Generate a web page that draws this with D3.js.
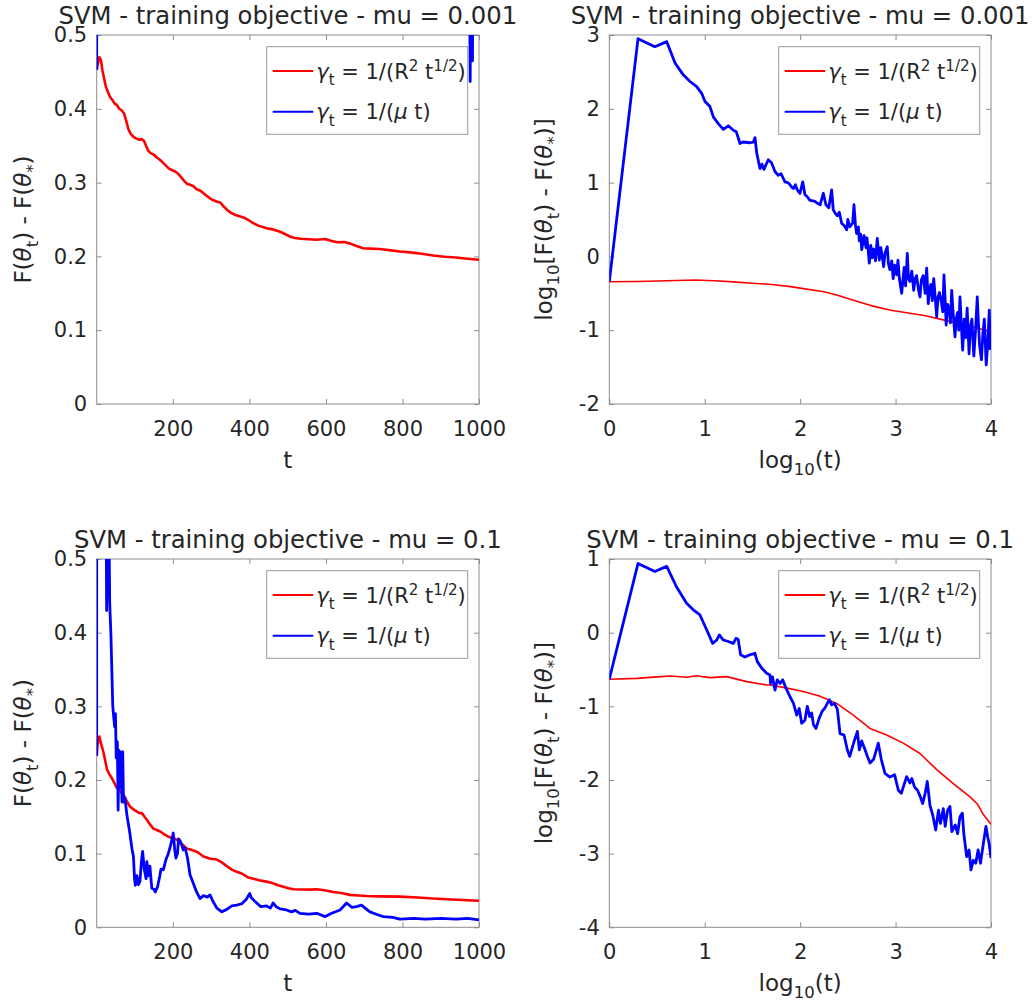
<!DOCTYPE html>
<html>
<head>
<meta charset="utf-8">
<script src="https://cdn.jsdelivr.net/npm/d3@7"></script>
<style>
  body { margin: 0; background: #fff; }
  svg text { font-family: "DejaVu Sans", "Liberation Sans", Arial, sans-serif; fill: #262626; }
</style>
</head>
<body>
<svg id="fig" width="1032" height="1008"></svg>
<script>
// ---- tick values / labels
var xTicksLin = [200, 400, 600, 800, 1000];
var xTickLabelsLin = ["200", "400", "600", "800", "1000"];
var yTicksLin = [0, 0.1, 0.2, 0.3, 0.4, 0.5];
var yTickLabelsLin = ["0", "0.1", "0.2", "0.3", "0.4", "0.5"];
var xTicksLog = [0, 1, 2, 3, 4];
var xTickLabelsLog = ["0", "1", "2", "3", "4"];
var yTicksLogTop = [-2, -1, 0, 1, 2, 3];
var yTickLabelsLogTop = ["-2", "-1", "0", "1", "2", "3"];
var yTicksLogBot = [-4, -3, -2, -1, 0, 1];
var yTickLabelsLogBot = ["-4", "-3", "-2", "-1", "0", "1"];

var titles = ["SVM - training objective - mu = 0.001", "SVM - training objective - mu = 0.1"];

// ---- series, [t, F(theta_t) - F(theta_*)]   mu = 0.001
var tlRed = [[1,0.453],[4,0.462],[8,0.470],[12,0.466],[16,0.452],[20,0.442],[25,0.430],[30,0.423],[36,0.416],[42,0.412],[48,0.407],[54,0.405],[60,0.400],[66,0.398],[72,0.394],[78,0.384],[84,0.372],[90,0.366],[97,0.362],[104,0.360],[112,0.358],[118,0.359],[124,0.357],[130,0.350],[136,0.343],[142,0.340],[150,0.338],[158,0.334],[166,0.331],[174,0.327],[182,0.323],[190,0.319],[198,0.317],[206,0.315],[214,0.312],[222,0.307],[230,0.302],[238,0.298],[246,0.297],[254,0.295],[262,0.291],[272,0.289],[284,0.284],[296,0.279],[306,0.276],[316,0.274],[324,0.273],[332,0.268],[342,0.263],[352,0.259],[364,0.256],[376,0.254],[388,0.252],[398,0.249],[410,0.245],[422,0.242],[434,0.240],[446,0.238],[458,0.237],[470,0.235],[482,0.233],[494,0.230],[506,0.227],[518,0.225],[535,0.224],[555,0.2232],[575,0.2225],[598,0.2235],[615,0.221],[630,0.2192],[648,0.2195],[665,0.217],[680,0.214],[697,0.211],[715,0.2105],[740,0.21],[765,0.2085],[793,0.2067],[820,0.2055],[850,0.2035],[880,0.2013],[910,0.1995],[940,0.1985],[970,0.1968],[1000,0.1954]];
var tlBlue = [[1,0.453],[2,891],[3,692],[4,813],[10,126],[30,30],[100,7],[300,1.8],[600,0.95],[900,0.7],[972,0.9],[975,0.6],[977,0.437],[979,0.72],[981,0.56],[983,0.465],[985,0.8],[1000,1.1]];

// ---- series, [log10 t, log10 gap]   mu = 0.001
var trRed = [[0,-0.343],[0.3,-0.34],[0.6,-0.33],[0.9,-0.32],[1.1,-0.33],[1.3,-0.345],[1.5,-0.363],[1.7,-0.38],[1.9,-0.41],[2.05,-0.44],[2.25,-0.48],[2.4,-0.53],[2.6,-0.61],[2.75,-0.67],[2.95,-0.73],[3.1,-0.76],[3.3,-0.80],[3.5,-0.86],[3.7,-0.92],[3.85,-0.97],[4,-1.02]];
var trBlue = [[0,-0.343],[0.301,2.95],[0.477,2.84],[0.602,2.91],[0.689,2.62],[0.775,2.46],[0.846,2.37],[0.916,2.30],[0.968,2.21],[1.003,2.10],[1.055,2.03],[1.09,1.89],[1.142,1.80],[1.195,1.72],[1.247,1.77],[1.3,1.71],[1.33,1.69],[1.37,1.53],[1.4,1.55],[1.474,1.54],[1.51,1.55],[1.527,1.61],[1.545,1.40],[1.579,1.19],[1.6,1.25],[1.62,1.18],[1.666,1.31],[1.7,1.27],[1.736,1.15],[1.77,1.10],[1.8,1.12],[1.841,1.01],[1.87,1.0],[1.894,0.97],[1.91,0.94],[1.93,0.92],[1.95,0.97],[1.97,0.90],[1.998,0.855],[2.027,1.01],[2.05,0.84],[2.08,0.80],[2.103,0.76],[2.15,0.75],[2.18,0.72],[2.21,0.70],[2.243,0.855],[2.27,0.70],[2.3,0.66],[2.33,0.90],[2.347,0.63],[2.37,0.58],[2.39,0.55],[2.41,0.60],[2.435,0.45],[2.46,0.42],[2.488,0.36],[2.5,0.50],[2.52,0.40],[2.55,0.45],[2.564,0.70],[2.58,0.42],[2.592,0.31],[2.61,0.40],[2.62,0.21],[2.635,0.30],[2.645,0.09],[2.67,0.28],[2.69,0.12],[2.7,0.25],[2.715,0.05],[2.725,-0.09],[2.74,0.15],[2.755,-0.02],[2.77,0.10],[2.79,-0.06],[2.808,0.245],[2.83,-0.05],[2.845,0.12],[2.86,0.0],[2.875,-0.14],[2.89,0.05],[2.913,0.13],[2.925,-0.10],[2.94,-0.18],[2.96,-0.06],[2.975,-0.30],[2.99,-0.12],[3.01,-0.25],[3.025,-0.05],[3.04,-0.30],[3.064,-0.50],[3.08,-0.28],[3.09,-0.15],[3.105,-0.40],[3.123,0.04],[3.135,-0.30],[3.15,-0.34],[3.17,-0.20],[3.19,-0.46],[3.205,-0.30],[3.22,-0.26],[3.24,-0.45],[3.256,-0.55],[3.27,-0.32],[3.29,-0.26],[3.31,-0.50],[3.326,-0.16],[3.343,-0.64],[3.355,-0.45],[3.37,-0.38],[3.385,-0.60],[3.4,-0.30],[3.415,-0.55],[3.431,-0.82],[3.445,-0.55],[3.46,-0.49],[3.48,-0.62],[3.495,-0.75],[3.507,-0.25],[3.52,-0.60],[3.53,-0.93],[3.545,-0.65],[3.56,-0.70],[3.575,-0.90],[3.588,-0.46],[3.605,-0.80],[3.623,-1.09],[3.635,-0.85],[3.65,-0.76],[3.662,-1.0],[3.675,-0.55],[3.69,-0.95],[3.703,-1.27],[3.72,-0.85],[3.735,-1.10],[3.75,-0.70],[3.77,-1.32],[3.785,-0.95],[3.8,-0.85],[3.82,-1.35],[3.838,-1.0],[3.856,-0.55],[3.87,-0.95],[3.88,-1.2],[3.9,-1.40],[3.915,-1.05],[3.93,-0.85],[3.95,-1.47],[3.965,-1.2],[3.982,-0.73],[3.99,-1.25],[4.0,-1.09]];

// ---- series, [t, F(theta_t) - F(theta_*)]   mu = 0.1
var blRed = [[1,0.233],[3,0.248],[6,0.256],[8,0.259],[12,0.250],[19,0.237],[24,0.224],[28,0.214],[34,0.208],[41,0.202],[47,0.196],[54,0.189],[62,0.185],[71,0.180],[80,0.171],[88,0.164],[97,0.160],[106,0.157],[113,0.155],[119,0.155],[126,0.150],[132,0.146],[140,0.140],[149,0.134],[158,0.132],[167,0.130],[178,0.126],[188,0.123],[200,0.121],[210,0.119],[222,0.114],[236,0.107],[250,0.105],[265,0.102],[280,0.096],[298,0.093],[315,0.092],[328,0.088],[341,0.083],[355,0.078],[367,0.0755],[380,0.073],[395,0.068],[410,0.066],[425,0.064],[445,0.062],[460,0.060],[475,0.057],[489,0.055],[502,0.053],[515,0.0516],[540,0.0514],[560,0.0512],[576,0.0516],[600,0.050],[619,0.048],[640,0.0465],[663,0.044],[685,0.0432],[706,0.0425],[740,0.042],[793,0.0416],[840,0.0405],[880,0.039],[930,0.0378],[970,0.0368],[1000,0.036]];
var blBlue = [[1,0.233],[2,8.7],[3,6.8],[4,7.9],[5,4.2],[6,2.6],[8,2.0],[10,1.1],[14,0.8],[18,0.9],[22,0.75],[25,0.6],[27,0.43],[29,0.52],[31,0.46],[33,0.55],[35,0.44],[38,0.40],[40,0.36],[43,0.30],[45,0.288],[48,0.272],[50,0.29],[52,0.23],[55,0.252],[57,0.159],[59,0.24],[62,0.19],[65,0.238],[67,0.17],[69,0.238],[71,0.17],[75,0.175],[80,0.152],[87,0.13],[93,0.107],[97,0.096],[100,0.065],[102,0.057],[106,0.07],[110,0.058],[114,0.062],[118,0.09],[121,0.103],[125,0.08],[130,0.066],[132,0.089],[136,0.07],[140,0.083],[145,0.053],[150,0.052],[154,0.048],[160,0.055],[166,0.07],[169,0.079],[175,0.078],[182,0.092],[188,0.1],[193,0.109],[198,0.12],[201,0.128],[205,0.105],[208,0.094],[212,0.10],[215,0.12],[219,0.117],[223,0.112],[227,0.105],[232,0.108],[238,0.095],[245,0.071],[253,0.060],[262,0.048],[271,0.039],[280,0.043],[290,0.041],[297,0.044],[305,0.035],[315,0.026],[328,0.021],[340,0.024],[354,0.029],[367,0.030],[380,0.032],[392,0.038],[401,0.046],[405,0.040],[419,0.033],[430,0.028],[445,0.029],[455,0.026],[462,0.033],[470,0.028],[480,0.025],[497,0.0235],[510,0.021],[520,0.023],[532,0.019],[555,0.018],[576,0.019],[598,0.0145],[615,0.019],[637,0.0235],[654,0.033],[668,0.027],[680,0.028],[693,0.030],[705,0.025],[715,0.021],[735,0.017],[750,0.0145],[775,0.0135],[793,0.011],[830,0.012],[860,0.011],[900,0.012],[940,0.011],[970,0.012],[1000,0.010]];

// ---- series, [log10 t, log10 gap]   mu = 0.1
var brRed = [[0,-0.633],[0.29,-0.62],[0.5,-0.60],[0.64,-0.588],[0.81,-0.606],[0.915,-0.584],[1.055,-0.61],[1.23,-0.597],[1.44,-0.665],[1.65,-0.71],[1.684,-0.71],[1.85,-0.75],[2.033,-0.80],[2.2,-0.86],[2.383,-0.96],[2.557,-1.12],[2.732,-1.30],[2.907,-1.39],[3.08,-1.50],[3.256,-1.64],[3.431,-1.86],[3.605,-2.05],[3.78,-2.23],[3.86,-2.33],[3.92,-2.47],[4.0,-2.60]];
var brBlue = [[0,-0.633],[0.301,0.94],[0.477,0.83],[0.602,0.90],[0.705,0.62],[0.81,0.40],[0.88,0.31],[0.95,0.24],[1.02,0.04],[1.083,-0.145],[1.125,-0.10],[1.153,-0.03],[1.195,-0.10],[1.247,-0.12],[1.3,-0.145],[1.327,-0.077],[1.35,-0.09],[1.376,-0.30],[1.42,-0.33],[1.474,-0.30],[1.526,-0.28],[1.55,-0.39],[1.596,-0.48],[1.649,-0.55],[1.684,-0.574],[1.69,-0.69],[1.71,-0.60],[1.736,-0.78],[1.76,-0.64],[1.79,-0.69],[1.817,-0.64],[1.85,-0.75],[1.894,-0.87],[1.93,-0.96],[1.964,-1.12],[1.99,-1.03],[2.016,-1.23],[2.05,-1.19],[2.075,-1.00],[2.1,-1.14],[2.12,-1.09],[2.14,-1.25],[2.166,-1.30],[2.2,-1.16],[2.23,-1.07],[2.26,-1.02],[2.305,-0.91],[2.33,-0.98],[2.36,-0.96],[2.39,-1.04],[2.418,-1.37],[2.46,-1.39],[2.494,-1.59],[2.52,-1.68],[2.56,-1.50],[2.6,-1.34],[2.62,-1.59],[2.645,-1.47],[2.68,-1.59],[2.705,-1.68],[2.732,-1.77],[2.77,-1.72],[2.819,-1.50],[2.85,-1.72],[2.889,-1.91],[2.94,-1.96],[2.99,-1.93],[3.029,-2.14],[3.06,-2.18],[3.09,-2.06],[3.116,-1.955],[3.15,-2.04],[3.17,-1.98],[3.2,-2.10],[3.23,-2.14],[3.26,-2.23],[3.284,-2.32],[3.31,-2.18],[3.332,-2.02],[3.36,-2.34],[3.39,-2.48],[3.42,-2.68],[3.45,-2.41],[3.47,-2.59],[3.5,-2.39],[3.52,-2.63],[3.545,-2.41],[3.57,-2.36],[3.59,-2.70],[3.625,-2.61],[3.65,-2.73],[3.675,-2.50],[3.70,-2.45],[3.715,-2.73],[3.745,-3.04],[3.77,-2.95],[3.79,-3.22],[3.815,-3.09],[3.84,-3.13],[3.865,-2.95],[3.89,-3.13],[3.92,-2.86],[3.947,-2.63],[3.965,-2.77],[3.98,-2.86],[4.0,-3.06]];

// ---- text pieces: [string, kind]  kind = n | sub | sup | it
var legendRed = [["γ","it"],["t","sub"],[" = 1/(R","n"],["2","sup"],[" t","n"],["1/2","sup"],[")","n"]];
var legendBlue = [["γ","it"],["t","sub"],[" = 1/(","n"],["μ","it"],[" t)","n"]];
var ylabLin = [["F(","n"],["θ","it"],["t","sub"],[") - F(","n"],["θ","it"],["*","sub"],[")","n"]];
var ylabLog = [["log","n"],["10","sub"],["[F(","n"],["θ","it"],["t","sub"],[") - F(","n"],["θ","it"],["*","sub"],[")]","n"]];
var xlabLin = [["t","n"]];
var xlabLog = [["log","n"],["10","sub"],["(t)","n"]];

var svg = d3.select("#fig");

// writes a piece list into a text element as tspans
function richText(sel, parts, size){
    var shift = 0;
    parts.forEach(function(p){
        var target = 0, fs = size;
        if (p[1] === "sub"){ target = size * 0.3; fs = size * 0.72; }
        if (p[1] === "sup"){ target = -size * 0.38; fs = size * 0.72; }
        var ts = sel.append("tspan").text(p[0]).attr("font-size", fs)
            .attr("dy", target - shift);
        if (p[1] === "it") ts.attr("font-style", "italic");
        shift = target;
    });
}

function drawPanel(cfg){
    var g = svg.append("g");
    var x = d3.scaleLinear().domain(cfg.xDomain).range([cfg.left, cfg.right]);
    var y = d3.scaleLinear().domain(cfg.yDomain).range([cfg.bottom, cfg.top]);
    var w = cfg.right - cfg.left, h = cfg.bottom - cfg.top;

    svg.append("clipPath").attr("id", "clip" + cfg.id)
        .append("rect").attr("x", cfg.left).attr("y", cfg.top).attr("width", w).attr("height", h);

    // box + inward ticks on all four sides
    var axBottom = d3.axisBottom(x).tickValues(cfg.xTicks).tickSizeInner(-5).tickSizeOuter(0).tickPadding(17)
        .tickFormat(d => cfg.xLabels[cfg.xTicks.indexOf(d)]);
    var axTop = d3.axisTop(x).tickValues(cfg.xTicks).tickSizeInner(-5).tickSizeOuter(0).tickFormat("");
    var axLeft = d3.axisLeft(y).tickValues(cfg.yTicks).tickSizeInner(-5).tickSizeOuter(0).tickPadding(9.5)
        .tickFormat(d => cfg.yLabels[cfg.yTicks.indexOf(d)]);
    var axRight = d3.axisRight(y).tickValues(cfg.yTicks).tickSizeInner(-5).tickSizeOuter(0).tickFormat("");

    [[axBottom, 0, cfg.bottom], [axTop, 0, cfg.top], [axLeft, cfg.left, 0], [axRight, cfg.right, 0]].forEach(function(a){
        var ag = g.append("g").attr("transform", "translate(" + a[1] + "," + a[2] + ")").call(a[0]);
        ag.select(".domain").remove();
        ag.selectAll(".tick line").attr("stroke", "#8c8c8c");
        ag.selectAll(".tick text").attr("font-size", 21).attr("fill", "#262626")
            .attr("font-family", '"DejaVu Sans", "Liberation Sans", Arial, sans-serif');
    });

    g.append("rect").attr("x", cfg.left).attr("y", cfg.top).attr("width", w).attr("height", h)
        .attr("fill", "none").attr("stroke", "#8c8c8c").attr("stroke-width", 1);

    var line = d3.line().x(d => x(d[0])).y(d => y(d[1]));
    var lines = g.append("g").attr("clip-path", "url(#clip" + cfg.id + ")");
    lines.append("path").datum(cfg.red).attr("d", line).attr("fill", "none")
        .attr("stroke", "#ff0000").attr("stroke-width", cfg.redWidth).attr("stroke-linejoin", "round");
    lines.append("path").datum(cfg.blue).attr("d", line).attr("fill", "none")
        .attr("stroke", "#0000ff").attr("stroke-width", 2.8).attr("stroke-linejoin", "round");

    // title
    g.append("text").attr("x", (cfg.left + cfg.right) / 2).attr("y", cfg.top - 11)
        .attr("text-anchor", "middle").attr("font-size", 24.3).text(cfg.title);

    // axis labels
    var xl = g.append("text").attr("x", (cfg.left + cfg.right) / 2).attr("y", cfg.bottom + 64)
        .attr("text-anchor", "middle").attr("font-size", 23);
    richText(xl, cfg.xLab, 23);
    var yl = g.append("text").attr("text-anchor", "middle").attr("font-size", 23)
        .attr("transform", "translate(" + (cfg.left - cfg.yLabOff) + "," + ((cfg.top + cfg.bottom) / 2) + ") rotate(-90)");
    richText(yl, cfg.yLab, 23);

    // legend
    var lx = cfg.right - 11.3 - 201, ly = cfg.top + 11.7;
    var lg = g.append("g");
    lg.append("rect").attr("x", lx).attr("y", ly).attr("width", 201).attr("height", 87.6)
        .attr("fill", "#fff").attr("stroke", "#9a9a9a").attr("stroke-width", 1);
    [[legendRed, "#ff0000", 24.3], [legendBlue, "#0000ff", 65]].forEach(function(e){
        lg.append("line").attr("x1", lx + 6).attr("x2", lx + 46.6)
            .attr("y1", ly + e[2]).attr("y2", ly + e[2]).attr("stroke", e[1]).attr("stroke-width", 2);
        var t = lg.append("text").attr("x", lx + 49.5).attr("y", ly + e[2] + 7.5).attr("font-size", 21);
        richText(t, e[0], 21);
    });
}

drawPanel({ id: "tl", left: 96.7, right: 479, top: 35, bottom: 404,
    xDomain: [1, 1000], yDomain: [0, 0.5], xTicks: xTicksLin, xLabels: xTickLabelsLin,
    yTicks: yTicksLin, yLabels: yTickLabelsLin,
    red: tlRed, blue: tlBlue, redWidth: 2.6, title: titles[0], xLab: xlabLin, yLab: ylabLin, yLabOff: 66 });

drawPanel({ id: "tr", left: 609.3, right: 991, top: 35, bottom: 404,
    xDomain: [0, 4], yDomain: [-2, 3], xTicks: xTicksLog, xLabels: xTickLabelsLog,
    yTicks: yTicksLogTop, yLabels: yTickLabelsLogTop,
    red: trRed, blue: trBlue, redWidth: 1.6, title: titles[0], xLab: xlabLog, yLab: ylabLog, yLabOff: 57 });

drawPanel({ id: "bl", left: 96.7, right: 479, top: 559, bottom: 927.3,
    xDomain: [1, 1000], yDomain: [0, 0.5], xTicks: xTicksLin, xLabels: xTickLabelsLin,
    yTicks: yTicksLin, yLabels: yTickLabelsLin,
    red: blRed, blue: blBlue, redWidth: 2.6, title: titles[1], xLab: xlabLin, yLab: ylabLin, yLabOff: 66 });

drawPanel({ id: "br", left: 609.3, right: 991, top: 559, bottom: 927.3,
    xDomain: [0, 4], yDomain: [-4, 1], xTicks: xTicksLog, xLabels: xTickLabelsLog,
    yTicks: yTicksLogBot, yLabels: yTickLabelsLogBot,
    red: brRed, blue: brBlue, redWidth: 1.6, title: titles[1], xLab: xlabLog, yLab: ylabLog, yLabOff: 57 });
</script>
</body>
</html>
